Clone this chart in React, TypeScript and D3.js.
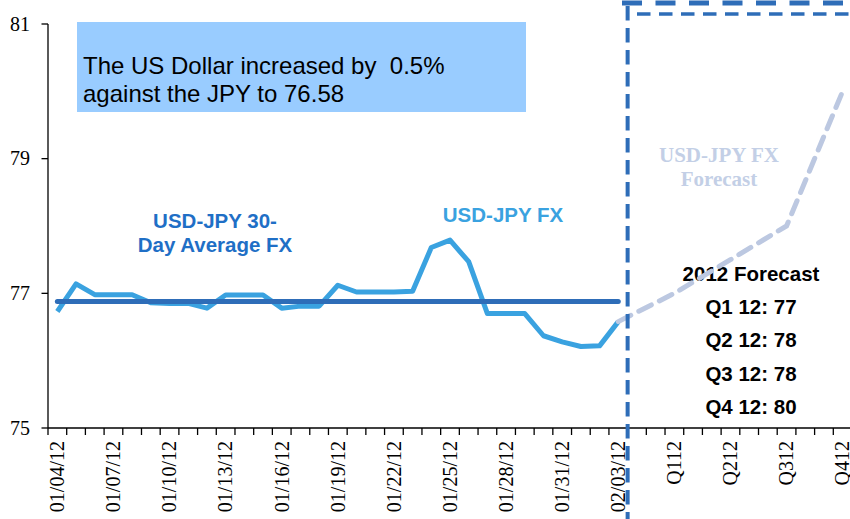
import React from 'react';
import * as d3 from 'd3';

// daily USD-JPY closes, Jan 4 - Feb 3 2012
const dates = [
  '01/04/12', '01/05/12', '01/06/12', '01/07/12', '01/08/12', '01/09/12', '01/10/12', '01/11/12',
  '01/12/12', '01/13/12', '01/14/12', '01/15/12', '01/16/12', '01/17/12', '01/18/12', '01/19/12',
  '01/20/12', '01/21/12', '01/22/12', '01/23/12', '01/24/12', '01/25/12', '01/26/12', '01/27/12',
  '01/28/12', '01/29/12', '01/30/12', '01/31/12', '02/01/12', '02/02/12', '02/03/12'
];
const fxValues = [
  76.73, 77.14, 76.98, 76.98, 76.98, 76.86, 76.85, 76.85,
  76.78, 76.975, 76.975, 76.975, 76.78, 76.81, 76.81, 77.12,
  77.02, 77.02, 77.02, 77.03, 77.68, 77.79, 77.47, 76.7,
  76.7, 76.7, 76.37, 76.28, 76.21, 76.22, 76.58
];
const avgFx = 76.88;

const quarters = ['Q112', 'Q212', 'Q312', 'Q412'];
const forecastValues = [77, 77.5, 78, 80];
const forecastLines = ['2012 Forecast', 'Q1 12: 77', 'Q2 12: 78', 'Q3 12: 78', 'Q4 12: 80'];
const yTicks = [75, 77, 79, 81];

const W = 850;
const H = 519;
const serif = '"Liberation Serif", "Times New Roman", serif';
const sans = '"Liberation Sans", Arial, sans-serif';

const App = () => {
  // each quarter gets 3 slots after the daily data, label on the last one
  const nSlots = dates.length + quarters.length * 3;
  const qIndex = quarters.map((q, i) => dates.length + i * 3 + 2);

  const x = d3.scaleBand<number>().domain(d3.range(nSlots)).range([48, 852]);
  const y = d3.scaleLinear().domain([75, 81]).range([428, 24]);
  const cx = (i: number) => (x(i) as number) + x.bandwidth() / 2;

  const line = d3.line<[number, number]>().x(d => cx(d[0])).y(d => y(d[1]));

  const fxPts: [number, number][] = fxValues.map((v, i) => [i, v]);
  const avgPts: [number, number][] = [[0, avgFx], [dates.length - 1, avgFx]];
  const fcPts: [number, number][] = [[dates.length - 1, fxValues[fxValues.length - 1]]]
    .concat(forecastValues.map((v, i) => [qIndex[i], v])) as [number, number][];

  const labels: { i: number; t: string }[] = [];
  dates.forEach((d, i) => { if (i % 3 === 0) labels.push({ i, t: d }); });
  quarters.forEach((q, i) => labels.push({ i: qIndex[i], t: q }));

  const splitX = x(dates.length) as number;

  return (
    <svg width={W} height={H} style={{ position: 'absolute', left: 0, top: 0, background: '#fff' }}>
      {/* headline box */}
      <rect x={77} y={22} width={449} height={90} fill="#99ccff" />
      <text x={83} y={74} fontFamily={sans} fontSize={24} fill="#000" style={{ whiteSpace: 'pre' }}>The US Dollar increased by  0.5%</text>
      <text x={83} y={102} fontFamily={sans} fontSize={24} fill="#000">against the JPY to 76.58</text>

      {/* axes */}
      <line x1={48} x2={48} y1={y(81)} y2={y(75)} stroke="#000" strokeWidth={1.3} />
      <line x1={48} x2={852} y1={y(75)} y2={y(75)} stroke="#000" strokeWidth={1.3} />
      {yTicks.map(t => (
        <g key={t}>
          <line x1={41.5} x2={48} y1={y(t)} y2={y(t)} stroke="#000" strokeWidth={1.3} />
          <text x={30} y={y(t) + 6.5} textAnchor="end" fontFamily={serif} fontSize={20} fill="#000">{t}</text>
        </g>
      ))}
      {d3.range(nSlots + 1).map(i => {
        const tx = 48 + i * x.step();
        return <line key={i} x1={tx} x2={tx} y1={428} y2={435} stroke="#000" strokeWidth={1.3} />;
      })}
      {labels.map(l => (
        <text key={l.i} transform={`translate(${cx(l.i)},441) rotate(-90)`} dy="0.34em" textAnchor="end"
          fontFamily={serif} fontSize={20} fill="#000">{l.t}</text>
      ))}

      {/* series labels */}
      <text x={215} y={228} textAnchor="middle" fontFamily={sans} fontWeight="bold" fontSize={20.5} fill="#1f6fc6">USD-JPY 30-</text>
      <text x={215} y={252} textAnchor="middle" fontFamily={sans} fontWeight="bold" fontSize={20.5} fill="#1f6fc6">Day Average FX</text>
      <text x={503} y={222} textAnchor="middle" fontFamily={sans} fontWeight="bold" fontSize={20.5} fill="#3aa2e0">USD-JPY FX</text>
      <text x={719} y={162} textAnchor="middle" fontFamily={serif} fontWeight="bold" fontSize={21} fill="#c3cfe6">USD-JPY FX</text>
      <text x={719} y={186} textAnchor="middle" fontFamily={serif} fontWeight="bold" fontSize={21} fill="#c3cfe6">Forecast</text>

      {forecastLines.map((t, i) => (
        <text key={t} x={751} y={281 + i * 33.2} textAnchor="middle" fontFamily={sans} fontWeight="bold"
          fontSize={20.5} fill="#000">{t}</text>
      ))}

      {/* series */}
      <path d={line(fxPts) || ''} fill="none" stroke="#3aa2e0" strokeWidth={5} strokeLinejoin="round" />
      <path d={line(avgPts) || ''} fill="none" stroke="#2e6db8" strokeWidth={5} strokeLinecap="round" />
      <path d={line(fcPts) || ''} fill="none" stroke="#bcc8e1" strokeWidth={5} strokeDasharray="14 9" strokeLinecap="round" />

      {/* forecast region marker */}
      <line x1={splitX} x2={splitX} y1={6} y2={H} stroke="#2e6db8" strokeWidth={4} strokeDasharray="14.5 7.5" />
      <line x1={622} x2={W} y1={3} y2={3} stroke="#2e6db8" strokeWidth={5} strokeDasharray="20 13.5" />
      <line x1={637} x2={W} y1={14} y2={14} stroke="#2e6db8" strokeWidth={3.6} strokeDasharray="13.5 8.5" />
    </svg>
  );
};

export default App;
